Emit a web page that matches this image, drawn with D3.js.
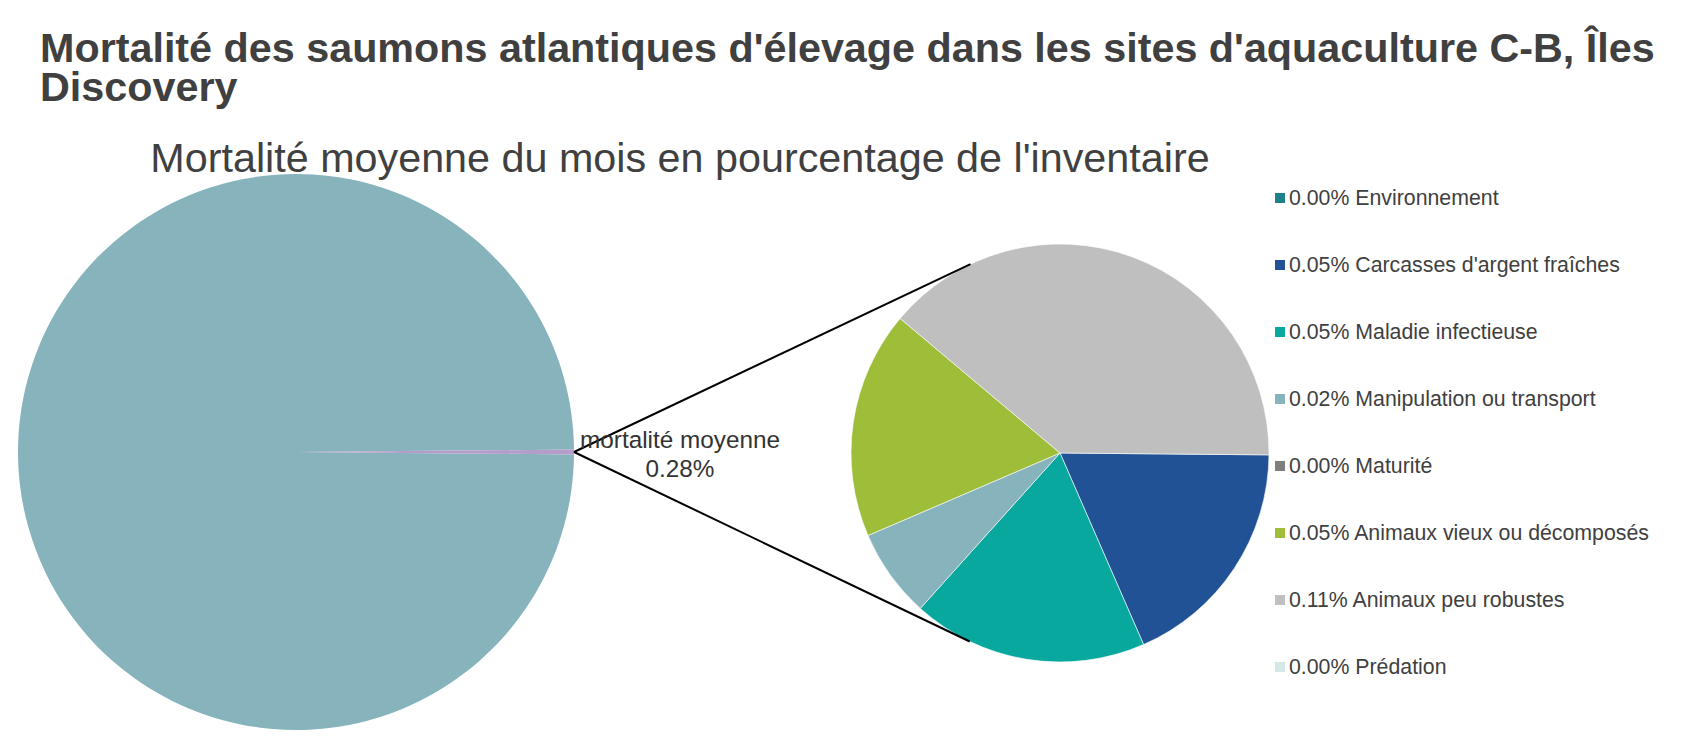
<!DOCTYPE html>
<html>
<head>
<meta charset="utf-8">
<script src="https://cdn.jsdelivr.net/npm/d3@7"></script>
<style>
    body { margin: 0; background: #fff; }
    svg text { font-family: "Liberation Sans", Arial, sans-serif; }
</style>
</head>
<body>
<div id="chart"></div>
<script>
'use strict';

// main pie: rest of the inventory vs monthly mortality (percent)
var mainNames = ['Inventaire', 'mortalité moyenne'];
var mainValues = [99.72, 0.28];
var mainColors = ['#86b3bc', '#b49ec9'];

// breakdown of the mortality (percent of inventory)
var categories = [
    'Environnement',
    "Carcasses d'argent fraîches",
    'Maladie infectieuse',
    'Manipulation ou transport',
    'Maturité',
    'Animaux vieux ou décomposés',
    'Animaux peu robustes',
    'Prédation'
];
var values = [0.0000, 0.0513, 0.0510, 0.0193, 0.0000, 0.0493, 0.1093, 0.0000];
var colors = ['#1f7f8a', '#215295', '#08a89f', '#86b3bc', '#7f7f7f', '#9ebe3a', '#bfbfbf', '#d5e8e5'];

var titleLines = [
    "Mortalité des saumons atlantiques d'élevage dans les sites d'aquaculture C-B, Îles",
    'Discovery'
];
var subtitle = "Mortalité moyenne du mois en pourcentage de l'inventaire";

var width = 1700,
    height = 750;

var cx1 = 296, cy1 = 452, r1 = 278;
var cx2 = 1060, cy2 = 453, r2 = 209;

var svg = d3.select('#chart').append('svg')
    .attr('width', width)
    .attr('height', height);

// titles
svg.append('text')
    .attr('x', 40)
    .attr('y', 62)
    .attr('font-size', 41.3)
    .attr('font-weight', 'bold')
    .attr('fill', '#404040')
    .selectAll('tspan')
    .data(titleLines)
    .enter()
    .append('tspan')
    .attr('x', 40)
    .attr('dy', function(d, i) { return i === 0 ? 0 : 38.5; })
    .text(function(d) { return d; });

svg.append('text')
    .attr('x', 680)
    .attr('y', 172)
    .attr('text-anchor', 'middle')
    .attr('font-size', 41.3)
    .attr('fill', '#404040')
    .text(subtitle);

// main pie, small slice centred on 3 o'clock
var mainShare = mainValues[1] / d3.sum(mainValues) * 2 * Math.PI;
var pieMain = d3.pie().sort(null)
    .startAngle(Math.PI / 2 + mainShare / 2)
    .endAngle(Math.PI / 2 + mainShare / 2 + 2 * Math.PI);

var arcMain = d3.arc().innerRadius(0).outerRadius(r1);

svg.append('g')
    .attr('transform', 'translate(' + cx1 + ',' + cy1 + ')')
    .selectAll('path')
    .data(pieMain(mainValues))
    .enter()
    .append('path')
    .attr('d', arcMain)
    .attr('fill', function(d, i) { return mainColors[i]; });

// secondary pie
var start2 = Math.PI / 2 + 0.009;
var pie2 = d3.pie().sort(null)
    .startAngle(start2)
    .endAngle(start2 + 2 * Math.PI);

var arc2 = d3.arc().innerRadius(0).outerRadius(r2);

svg.append('g')
    .attr('transform', 'translate(' + cx2 + ',' + cy2 + ')')
    .selectAll('path')
    .data(pie2(values).filter(function(d) { return d.value > 0; }))
    .enter()
    .append('path')
    .attr('d', arc2)
    .attr('fill', function(d) { return colors[d.index]; })
    .attr('stroke', '#fff')
    .attr('stroke-width', 0.6);

// connector lines: tangents from the slice tip to the second pie
var px = cx1 + r1, py = cy1;
var dx = px - cx2, dy = py - cy2;
var dist = Math.sqrt(dx * dx + dy * dy);
var base = Math.atan2(dy, dx);
var off = Math.acos(r2 / dist);
[base - off, base + off].forEach(function(a) {
    svg.append('line')
        .attr('x1', px)
        .attr('y1', py)
        .attr('x2', cx2 + r2 * Math.cos(a))
        .attr('y2', cy2 + r2 * Math.sin(a))
        .attr('stroke', '#000')
        .attr('stroke-width', 2);
});

// label of the mortality slice
var lbl = svg.append('text')
    .attr('text-anchor', 'middle')
    .attr('font-size', 24.3)
    .attr('fill', '#333');
lbl.append('tspan')
    .attr('x', 680)
    .attr('y', 448)
    .text(mainNames[1]);
lbl.append('tspan')
    .attr('x', 680)
    .attr('y', 477)
    .text(d3.format('.2f')(mainValues[1]) + '%');

// legend
var legend = svg.append('g')
    .selectAll('g')
    .data(categories)
    .enter()
    .append('g')
    .attr('transform', function(d, i) { return 'translate(1275,' + (205 + i * 67) + ')'; });

legend.append('rect')
    .attr('x', 0)
    .attr('y', -12)
    .attr('width', 10)
    .attr('height', 10)
    .attr('fill', function(d, i) { return colors[i]; });

legend.append('text')
    .attr('x', 14)
    .attr('y', 0)
    .attr('font-size', 21.3)
    .attr('fill', '#404040')
    .text(function(d, i) { return d3.format('.2f')(values[i]) + '% ' + d; });
</script>
</body>
</html>
